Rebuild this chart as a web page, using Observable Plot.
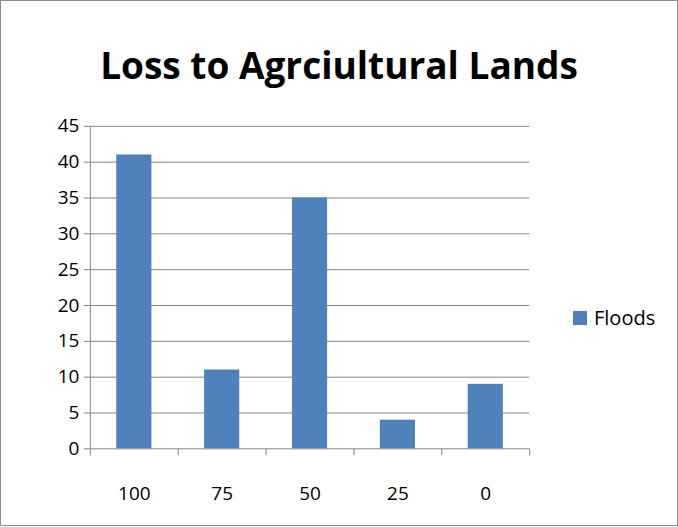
<!DOCTYPE html>
<html><head><meta charset="utf-8">
<script src="https://cdn.jsdelivr.net/npm/d3@7"></script>
<script src="https://cdn.jsdelivr.net/npm/@observablehq/plot@0.6"></script>
<style>
body{margin:0;background:#fff;font-family:"Open Sans",sans-serif}
#wrap{position:relative;width:676px;height:524px;border:1px solid #8c8c8c}
#title{position:absolute;left:0;width:676px;top:38px;text-align:center;font-weight:bold;font-size:37px;color:#000}
#legend{position:absolute;left:572px;top:303px;font-size:20px;display:flex;align-items:center}
#legend span{display:inline-block;width:14px;height:14px;background:#4F81BD;margin-right:7px}
#chart{position:absolute;left:-1px;top:-1px}
</style></head><body>
<div id="wrap"><div id="chart"></div><div id="title">Loss to Agrciultural Lands</div>
<div id="legend"><span></span>Floods</div></div>
<script>
const categories = ["100", "75", "50", "25", "0"];
const floods = [41, 11, 35, 4, 9];
const yTicks = [0, 5, 10, 15, 20, 25, 30, 35, 40, 45];
const data = categories.map((c, i) => ({i, c, v: floods[i]}));

const chart = Plot.plot({
  width: 678, height: 527,
  marginLeft: 90, marginRight: 148, marginTop: 126, marginBottom: 78,
  style: {fontSize: "19px", fontFamily: "Open Sans, sans-serif", color: "#000"},
  x: {domain: [0, 5], axis: null},
  y: {domain: [0, 45], axis: null},
  marks: [
    Plot.ruleY(yTicks.slice(1), {stroke: "#868686", strokeWidth: 1}),
    Plot.rectY(data, {x1: d => d.i + 0.3, x2: d => d.i + 0.7, y: "v", fill: "#4F81BD"}),
    Plot.ruleY([0], {stroke: "#868686"}),
    Plot.ruleX([0], {stroke: "#868686"}),
    Plot.ruleX(d3.range(categories.length + 1), {y1: 0, y2: -1, stroke: "#868686"}),
    Plot.ruleY(yTicks, {x1: 0, x2: -0.07, stroke: "#868686"}),
    Plot.text(yTicks, {x: 0, y: d => d, text: d => String(d), textAnchor: "end", dx: -11, fontSize: 19}),
    Plot.text(data, {x: d => d.i + 0.5, y: 0, text: "c", dy: 45, fontSize: 19})
  ]
});
document.getElementById("chart").append(chart);
</script></body></html>
